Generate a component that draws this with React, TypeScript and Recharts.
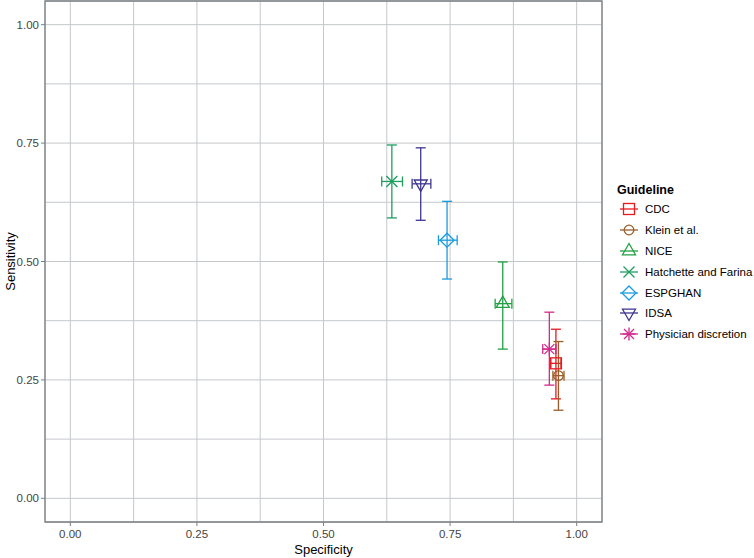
import React from "react";
import {
  ScatterChart, Scatter, XAxis, YAxis, CartesianGrid, ErrorBar, Legend, ReferenceArea,
} from "recharts";

// Guideline performance: specificity (x) vs sensitivity (y) with 95% CIs
const guidelines = [
  "CDC", "Klein et al.", "NICE", "Hatchette and Farina", "ESPGHAN", "IDSA", "Physician discretion",
];
const specificity = [0.959, 0.964, 0.854, 0.635, 0.744, 0.692, 0.946];
const specLow = [0.949, 0.953, 0.839, 0.615, 0.727, 0.675, 0.933];
const specHigh = [0.969, 0.975, 0.872, 0.656, 0.764, 0.712, 0.959];
const sensitivity = [0.285, 0.259, 0.411, 0.669, 0.545, 0.664, 0.315];
const sensLow = [0.21, 0.186, 0.315, 0.592, 0.463, 0.587, 0.239];
const sensHigh = [0.357, 0.331, 0.499, 0.746, 0.627, 0.74, 0.393];
const gridTicks = [0, 0.125, 0.25, 0.375, 0.5, 0.625, 0.75, 0.875, 1];
const majorTicks = [0, 0.25, 0.5, 0.75, 1];

const colors = ["#E8191F", "#995E2A", "#22A043", "#1E9E60", "#1A9BE0", "#3D3590", "#D12A8C"];
const shapes = ["square", "circle", "triangle", "x", "diamond", "triangleDown", "asterisk"];

const FONT = "Arial, 'Liberation Sans', sans-serif";
const TICK_COLOR = "#444444";

const series = guidelines.map((name, i) => ({
  name,
  data: [{
    x: specificity[i],
    y: sensitivity[i],
    errX: [specificity[i] - specLow[i], specHigh[i] - specificity[i]],
    errY: [sensitivity[i] - sensLow[i], sensHigh[i] - sensitivity[i]],
  }],
}));

function Marker({ kind, cx, cy, color }: { kind: string; cx: number; cy: number; color: string }) {
  const p = { fill: "none", stroke: color, strokeWidth: 1.3 };
  switch (kind) {
    case "square":
      return <rect x={cx - 5.5} y={cy - 5.5} width={11} height={11} {...p} />;
    case "circle":
      return <circle cx={cx} cy={cy} r={4.8} {...p} />;
    case "triangle":
      return <polygon points={`${cx},${cy - 7.5} ${cx - 6.5},${cy + 3.8} ${cx + 6.5},${cy + 3.8}`} {...p} />;
    case "triangleDown":
      return <polygon points={`${cx - 6.5},${cy - 3.8} ${cx + 6.5},${cy - 3.8} ${cx},${cy + 7.5}`} {...p} />;
    case "diamond":
      return <polygon points={`${cx},${cy - 7} ${cx + 7},${cy} ${cx},${cy + 7} ${cx - 7},${cy}`} {...p} />;
    case "x":
      return (
        <g {...p}>
          <line x1={cx - 5.5} y1={cy - 5.5} x2={cx + 5.5} y2={cy + 5.5} />
          <line x1={cx - 5.5} y1={cy + 5.5} x2={cx + 5.5} y2={cy - 5.5} />
        </g>
      );
    default:
      return (
        <g {...p}>
          <line x1={cx - 5} y1={cy - 5} x2={cx + 5} y2={cy + 5} />
          <line x1={cx - 5} y1={cy + 5} x2={cx + 5} y2={cy - 5} />
          <line x1={cx} y1={cy - 6.5} x2={cx} y2={cy + 6.5} />
          <line x1={cx - 6.5} y1={cy} x2={cx + 6.5} y2={cy} />
        </g>
      );
  }
}

function XTick(props: any) {
  const { x, y, payload } = props;
  if (!majorTicks.includes(payload.value)) return null;
  return (
    <g>
      <line x1={x} x2={x} y1={y - 8} y2={y - 4} stroke="#7A7F82" strokeWidth={1} />
      <text x={x} y={y} dy="0.71em" textAnchor="middle" fontSize={11.5} fill={TICK_COLOR} fontFamily={FONT}>
        {payload.value.toFixed(2)}
      </text>
    </g>
  );
}

function YTick(props: any) {
  const { x, y, payload } = props;
  if (!majorTicks.includes(payload.value)) return null;
  return (
    <g>
      <line x1={x + 2} x2={x + 6} y1={y} y2={y} stroke="#7A7F82" strokeWidth={1} />
      <text x={x} y={y} dy="0.35em" textAnchor="end" fontSize={11.5} fill={TICK_COLOR} fontFamily={FONT}>
        {payload.value.toFixed(2)}
      </text>
    </g>
  );
}

function GuidelineLegend(props: any) {
  const payload = [...(props.payload || [])].sort(
    (a: any, b: any) => guidelines.indexOf(a.value) - guidelines.indexOf(b.value),
  );
  return (
    <div style={{ fontFamily: FONT, color: "#000" }}>
      <div style={{ fontWeight: "bold", fontSize: 12.5, lineHeight: "18px" }}>Guideline</div>
      {payload.map((entry: any) => {
        const i = guidelines.indexOf(entry.value);
        return (
          <div key={entry.value} style={{ display: "flex", alignItems: "center", height: 20.8 }}>
            <svg width={20} height={20} style={{ marginLeft: 2 }}>
              <line x1={1} x2={19} y1={10} y2={10} stroke={colors[i]} strokeWidth={1.3} />
              <Marker kind={shapes[i]} cx={10} cy={10} color={colors[i]} />
            </svg>
            <span style={{ fontSize: 11.5, marginLeft: 6 }}>{entry.value}</span>
          </div>
        );
      })}
    </div>
  );
}

export default function App() {
  return (
    <div style={{ position: "absolute", left: 0, top: 0, background: "#fff" }}>
      <ScatterChart width={754} height={558} margin={{ top: 1, right: 152, bottom: 0, left: 0 }}>
        <CartesianGrid stroke="#C4C8CC" strokeWidth={1} />
        <XAxis
          type="number"
          dataKey="x"
          domain={[-0.05, 1.05]}
          allowDataOverflow
          ticks={gridTicks}
          interval={0}
          tick={<XTick />}
          tickLine={false}
          axisLine={false}
          tickSize={4}
          tickMargin={4}
          height={36}
          label={{ value: "Specificity", position: "insideBottom", offset: 4, fill: "#000", fontSize: 13, fontFamily: FONT }}
        />
        <YAxis
          type="number"
          dataKey="y"
          domain={[-0.05, 1.05]}
          allowDataOverflow
          ticks={gridTicks}
          interval={0}
          tick={<YTick />}
          tickLine={false}
          axisLine={false}
          tickSize={4}
          tickMargin={2}
          width={45}
          label={{
            value: "Sensitivity", angle: -90, position: "insideLeft", offset: 10,
            fill: "#000", fontSize: 13, fontFamily: FONT, style: { textAnchor: "middle" },
          }}
        />
        <ReferenceArea x1={-0.05} x2={1.05} y1={-0.05} y2={1.05} fill="none" stroke="#7A7F82" strokeWidth={1.3} />
        {series.map((s, i) => (
          <Scatter
            key={s.name}
            name={s.name}
            data={s.data}
            fill={colors[i]}
            isAnimationActive={false}
            shape={(p: any) => <Marker kind={shapes[i]} cx={p.cx} cy={p.cy} color={colors[i]} />}
          >
            <ErrorBar dataKey="errY" direction="y" width={5} stroke={colors[i]} strokeWidth={1.3} isAnimationActive={false} />
            <ErrorBar dataKey="errX" direction="x" width={5} stroke={colors[i]} strokeWidth={1.3} isAnimationActive={false} />
          </Scatter>
        ))}
        <Legend
          layout="vertical"
          align="center"
          verticalAlign="middle"
          content={<GuidelineLegend />}
          wrapperStyle={{ left: 617, top: 181, width: 137 }}
        />
      </ScatterChart>
    </div>
  );
}
